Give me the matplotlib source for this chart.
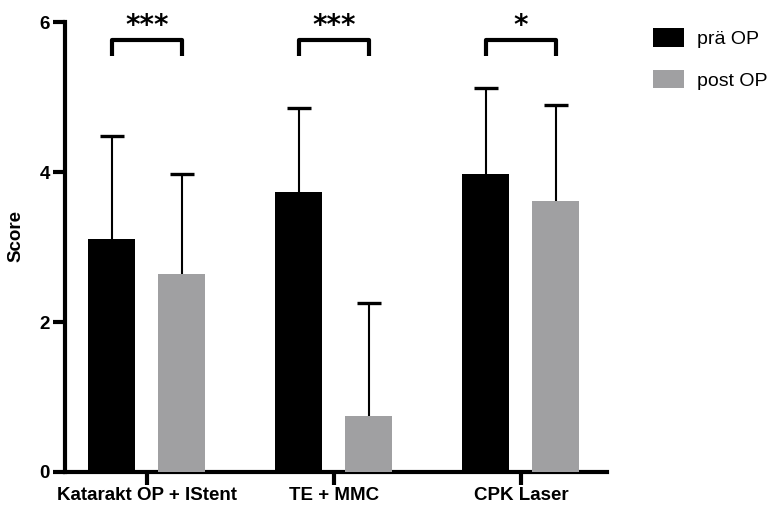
import matplotlib
matplotlib.use("Agg")
import matplotlib.pyplot as plt
import numpy as np

# données
categories = ["Katarakt OP + IStent", "TE + MMC", "CPK Laser"]
pre_mean = [3.11, 3.74, 3.98]
pre_sd = [1.37, 1.11, 1.14]
post_mean = [2.64, 0.75, 3.61]
post_sd = [1.33, 1.50, 1.29]
signif = ["***", "***", "*"]
series_names = ["prä OP", "post OP"]

FONT = ["Liberation Sans", "DejaVu Sans"]
GRAY = "#a0a0a2"

fig = plt.figure(figsize=(7.78, 5.15), dpi=100)
ax = fig.add_axes([0.0835, 0.0835, 0.697, 0.8735])

x = np.arange(len(categories))
w = 0.253
off_pre, off_post = -0.19, 0.185
cap = 0.065

b1 = ax.bar(x + off_pre, pre_mean, w, color="black", zorder=3, label=series_names[0])
b2 = ax.bar(x + off_post, post_mean, w, color=GRAY, zorder=3, label=series_names[1])

# barres d'erreur vers le haut seulement
for off, m, s in [(off_pre, pre_mean, pre_sd), (off_post, post_mean, post_sd)]:
    xs = x + off
    top = np.array(m) + np.array(s)
    ax.vlines(xs, m, top, color="black", lw=1.5, zorder=2)
    ax.hlines(top, xs - cap, xs + cap, color="black", lw=2.4, zorder=2)

# crochets de significativité
for i, lab in enumerate(signif):
    x0, x1 = x[i] + off_pre, x[i] + off_post
    ax.plot([x0, x0, x1, x1], [5.55, 5.76, 5.76, 5.55], color="black", lw=3,
            solid_capstyle="butt", clip_on=False, zorder=4)
    ax.text((x0 + x1) / 2, 5.76, lab, ha="center", va="bottom", fontsize=20,
            fontweight="bold", family="DejaVu Sans", clip_on=False)

ax.set_xlim(-0.44, 2.46)
ax.set_ylim(0, 6)
ax.set_yticks([0, 2, 4, 6])
ax.set_xticks(x)
ax.set_xticklabels(categories)

for sp in ["top", "right"]:
    ax.spines[sp].set_visible(False)
for sp in ["left", "bottom"]:
    ax.spines[sp].set_linewidth(3)

ax.tick_params(axis="both", width=3, length=9, pad=2)
for lbl in ax.get_xticklabels() + ax.get_yticklabels():
    lbl.set_family(FONT)
    lbl.set_fontweight("bold")
    lbl.set_fontsize(13.5)

ax.set_ylabel("Score", fontsize=13.5, fontweight="bold", family=FONT)
ax.yaxis.set_label_coords(-0.074, 0.524)

fig.legend(handles=[b1, b2], labels=series_names, loc="upper left",
           bbox_to_anchor=(0.839, 0.945), frameon=False, borderpad=0, borderaxespad=0,
           prop={"family": FONT, "size": 14}, handlelength=1.6, handleheight=1.1,
           labelspacing=1.1, handletextpad=0.7)

fig.savefig("out.png", dpi=100)
